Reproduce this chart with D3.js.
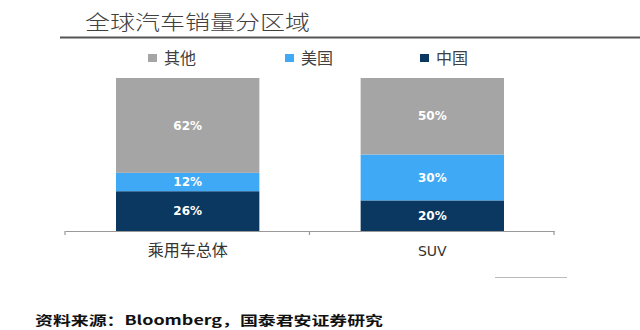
<!DOCTYPE html>
<html><head><meta charset="utf-8">
<script src="https://cdn.jsdelivr.net/npm/d3@7"></script>
<style>body{margin:0;background:#fff}</style>
</head><body><svg id="c" width="640" height="330"></svg>
<script>
const categories = ["乘用车总体", "SUV"];
const seriesNames = ["中国", "美国", "其他"];
const china = [26, 20];
const usa = [12, 30];
const other = [62, 50];
const legendOrder = ["其他", "美国", "中国"];
const titleText = "全球汽车销量分区域";
const sourceText = "资料来源：Bloomberg，国泰君安证券研究";

const colors = {"其他": "#a5a5a5", "美国": "#3fa9f5", "中国": "#0b3860"};
const svg = d3.select("#c");
const cjk = "'Noto Sans CJK SC', 'Noto Sans', sans-serif";

// title
svg.append("text").attr("x", 85).attr("y", 30).text(titleText)
  .attr("font-family", cjk).attr("font-size", 20).attr("font-weight", 300).attr("fill", "#404040")
  .attr("textLength", 225).attr("lengthAdjust", "spacingAndGlyphs");
svg.append("line").attr("x1", 60).attr("x2", 640).attr("y1", 37.5).attr("y2", 37.5)
  .attr("stroke", "#555").attr("stroke-width", 2);

// scales
const y = d3.scaleLinear().domain([0, 100]).range([231, 78]);
const xAxisScale = d3.scaleBand().domain(categories).range([65, 554]).padding(0);
const xBar = d3.scaleBand().domain(categories).range([116, 504]).paddingInner(0.414).paddingOuter(0);

const rows = categories.map((c, i) => ({cat: c, "中国": china[i], "美国": usa[i], "其他": other[i]}));
const stacked = d3.stack().keys(seriesNames)(rows);

const g = svg.append("g");
stacked.forEach(layer => {
  const key = layer.key;
  layer.forEach(d => {
    g.append("rect").attr("x", xBar(d.data.cat)).attr("width", xBar.bandwidth())
      .attr("y", y(d[1])).attr("height", y(d[0]) - y(d[1])).attr("fill", colors[key]);
    g.append("text").attr("x", xBar(d.data.cat) + xBar.bandwidth() / 2)
      .attr("y", (y(d[0]) + y(d[1])) / 2).attr("dy", "0.35em")
      .attr("text-anchor", "middle").attr("fill", "#fff")
      .attr("font-family", "Verdana, 'DejaVu Sans', sans-serif").attr("font-size", 12)
      .attr("font-weight", "bold").text(d.data[key] + "%");
  });
});

// axis
const axis = d3.axisBottom(xAxisScale).tickSize(0).tickFormat("");
const ax = svg.append("g").attr("transform", "translate(0,231)").call(axis);
ax.select(".domain").attr("stroke", "#999").attr("stroke-width", 1.2);
const bounds = [65, ...categories.map(c => xAxisScale(c) + xAxisScale.bandwidth())];
bounds.forEach(b => {
  svg.append("line").attr("x1", b).attr("x2", b).attr("y1", 231).attr("y2", 235)
    .attr("stroke", "#999").attr("stroke-width", 1.2);
});
categories.forEach(c => {
  svg.append("text").attr("x", xBar(c) + xBar.bandwidth() / 2).attr("y", 256)
    .attr("text-anchor", "middle").attr("font-family", c === "SUV" ? "Verdana, 'DejaVu Sans', sans-serif" : cjk)
    .attr("font-size", c === "SUV" ? 14 : 16).attr("fill", "#333").text(c);
});

// legend
const legendX = [148, 285, 420];
legendOrder.forEach((k, i) => {
  svg.append("rect").attr("x", legendX[i]).attr("y", 54).attr("width", 9).attr("height", 8).attr("fill", colors[k]);
  svg.append("text").attr("x", legendX[i] + 16).attr("y", 64).text(k)
    .attr("font-family", cjk).attr("font-size", 16).attr("fill", "#404040");
});

// small decorative line
svg.append("line").attr("x1", 495).attr("x2", 567).attr("y1", 277.5).attr("y2", 277.5)
  .attr("stroke", "#bbb").attr("stroke-width", 1);

// source
svg.append("text").attr("x", 35).attr("y", 325).text(sourceText)
  .attr("font-family", cjk).attr("font-size", 13).attr("font-weight", "bold").attr("fill", "#111")
  .attr("textLength", 348).attr("lengthAdjust", "spacingAndGlyphs");
</script></body></html>
